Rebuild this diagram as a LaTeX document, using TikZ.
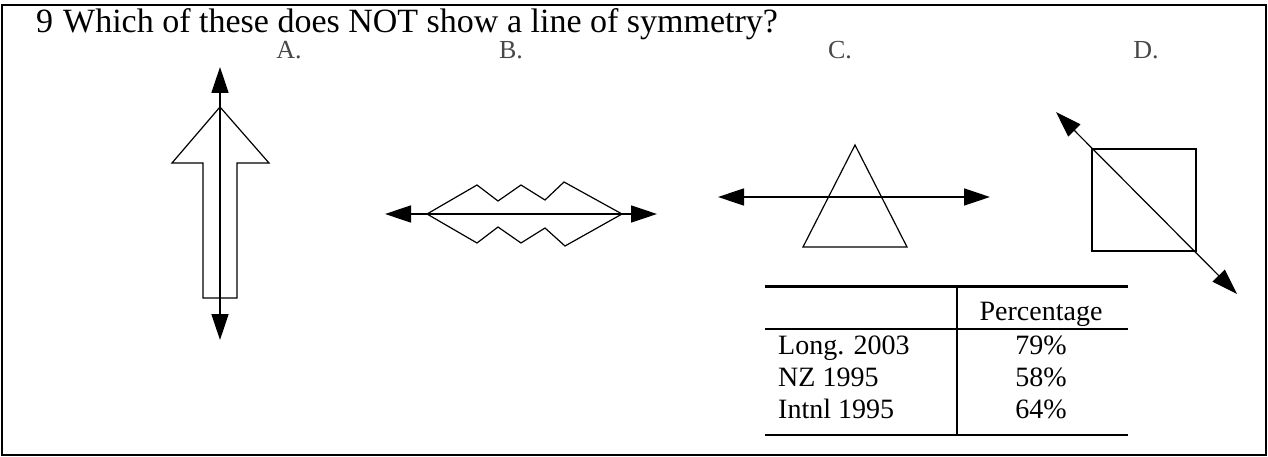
\documentclass[tikz,border=0pt]{standalone}
\usepackage{fontspec}
\setmainfont{Liberation Serif}
\usetikzlibrary{arrows.meta}

\begin{document}
\begin{tikzpicture}[x=1pt, y=-1pt,
    fig/.style={line width=1.2pt, line join=miter},
    symline/.style={line width=1.5pt,
        {Triangle[length=26pt, width=17pt]}-{Triangle[length=26pt, width=17pt]}},
    lbl/.style={font=\fontsize{26}{30}\selectfont, text=black!72, inner sep=0pt, anchor=base},
    cell/.style={font=\fontsize{28}{32}\selectfont, inner sep=0pt, anchor=base},
    rowhead/.style={cell, anchor=base west}
  ]
  \useasboundingbox (0,0) rectangle (1268,457);
  \draw[line width=2pt] (2,5) rectangle (1266,455);

  % question
  \node[anchor=base west, inner sep=0pt, font=\fontsize{34}{40}\selectfont] (num) at (36,33) {9};
  \node[anchor=base west, inner sep=0pt, font=\fontsize{34}{40}\selectfont] (quest) at (63,33)
    {Which of these does NOT show a line of symmetry?};

  % labels
  \node[lbl] (la) at (289,59) {A.};
  \node[lbl] (lb) at (511,59) {B.};
  \node[lbl] (lc) at (840,59) {C.};
  \node[lbl] (ld) at (1146,59) {D.};

  % A: arrow shape
  \draw[fig] (220,107) -- (269,163) -- (237,163) -- (237,298) -- (203,298)
    -- (203,163) -- (172,163) -- cycle;
  \coordinate (aT) at (220,67);
  \coordinate (aB) at (220,340);
  \draw[symline] (aT) -- (aB);

  % B: zigzag shape
  \draw[fig] (427,214) -- (477,185) -- (498,201) -- (521,185) -- (545,200) -- (564,182)
    -- (622,214) -- (565,246) -- (545,228) -- (521,243) -- (498,227) -- (477,243) -- cycle;
  \coordinate (bL) at (385,214);
  \coordinate (bR) at (657,214);
  \draw[symline] (bL) -- (bR);

  % C: triangle
  \draw[fig] (855,145) -- (907,247) -- (803,247) -- cycle;
  \coordinate (cL) at (718,197);
  \coordinate (cR) at (990,197);
  \draw[symline] (cL) -- (cR);

  % D: square
  \draw[fig] (1092,149) rectangle (1196,251);
  \coordinate (dT) at (1056,112);
  \coordinate (dB) at (1237,294);
  \draw[symline, line width=1.2pt] (dT) -- (dB);

  % table
  \draw[line width=3pt] (765,286) -- (1128,286);
  \draw[line width=2pt] (765,329) -- (1128,329);
  \draw[line width=2pt] (765,435) -- (1128,435);
  \draw[line width=2pt] (957,286) -- (957,435);
  \node[cell] (hd) at (1041,320) {Percentage};
  \node[rowhead] (r1) at (778,354) {Long. 2003};
  \node[cell] (v1) at (1041,354) {79\%};
  \node[rowhead] (r2) at (778,386) {NZ 1995};
  \node[cell] (v2) at (1041,386) {58\%};
  \node[rowhead] (r3) at (778,418) {Intnl 1995};
  \node[cell] (v3) at (1041,418) {64\%};
\end{tikzpicture}
\end{document}
